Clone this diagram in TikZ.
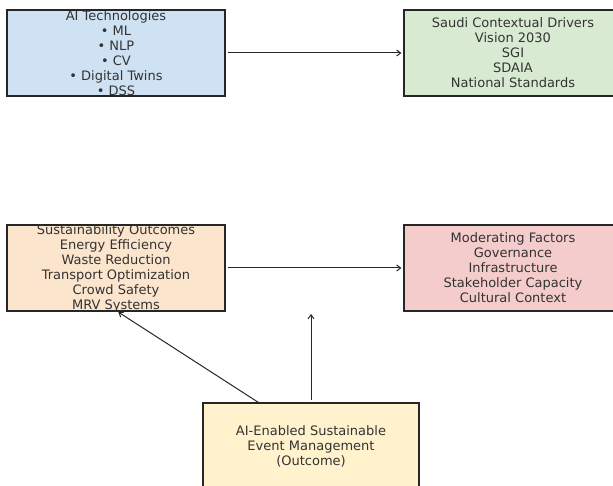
\documentclass[tikz,border=0pt]{standalone}
\usepackage{fontspec}
\setmainfont{DejaVu Sans}
\usetikzlibrary{arrows.meta}
\definecolor{cblue}{HTML}{CFE2F3}
\definecolor{cgreen}{HTML}{D9EAD3}
\definecolor{corange}{HTML}{FCE5CD}
\definecolor{cpink}{HTML}{F4CCCC}
\definecolor{cyellow}{HTML}{FFF2CC}
\definecolor{cline}{HTML}{262626}
\definecolor{ctext}{HTML}{333333}
\tikzset{
  boxshape/.style={draw=cline, line width=1.1pt, inner sep=0pt, minimum width=218pt, minimum height=86pt},
  boxtext/.style={text=ctext, align=center, inner sep=0pt, font=\fontsize{13pt}{15pt}\selectfont},
  conn/.style={draw=cline, line width=1pt, -{Straight Barb[length=4pt,width=6pt]}},
}
\begin{document}
\begin{tikzpicture}[x=1pt,y=-1pt]
\useasboundingbox (0,0) rectangle (613,486);
\clip (0,0) rectangle (613,486);
\node[boxshape, fill=cblue] (A) at (116,53) {};
\node[boxshape, fill=cgreen] (B) at (513,53) {};
\node[boxshape, fill=corange] (C) at (116,268) {};
\node[boxshape, fill=cpink] (D) at (513,268) {};
\node[boxshape, fill=cyellow, minimum width=216pt] (E) at (311,446) {};
\node[boxtext] (At) at (A.center) {AI Technologies\\• ML\\• NLP\\• CV\\• Digital Twins\\• DSS};
\node[boxtext] (Bt) at (B.center) {Saudi Contextual Drivers\\Vision 2030\\SGI\\SDAIA\\National Standards};
\node[boxtext] (Ct) at (C.center) {Sustainability Outcomes\\Energy Efficiency\\Waste Reduction\\Transport Optimization\\Crowd Safety\\MRV Systems};
\node[boxtext] (Dt) at (D.center) {Moderating Factors\\Governance\\Infrastructure\\Stakeholder Capacity\\Cultural Context};
\node[boxtext] (Et) at (E.center) {AI-Enabled Sustainable\\Event Management\\(Outcome)};
\draw[conn, shorten <=2pt, shorten >=2pt] (A.east) -- (B.west);
\draw[conn, shorten <=2pt, shorten >=2pt] (C.east) -- (D.west);
\coordinate (e1) at ([xshift=56pt]E.north west);
\coordinate (c1) at ([xshift=111pt]C.south west);
\draw[conn, shorten >=1pt] (e1) -- (c1);
\coordinate (up) at (311,314);
\draw[conn, shorten <=2pt] (E.north) -- (up);
\end{tikzpicture}
\end{document}
